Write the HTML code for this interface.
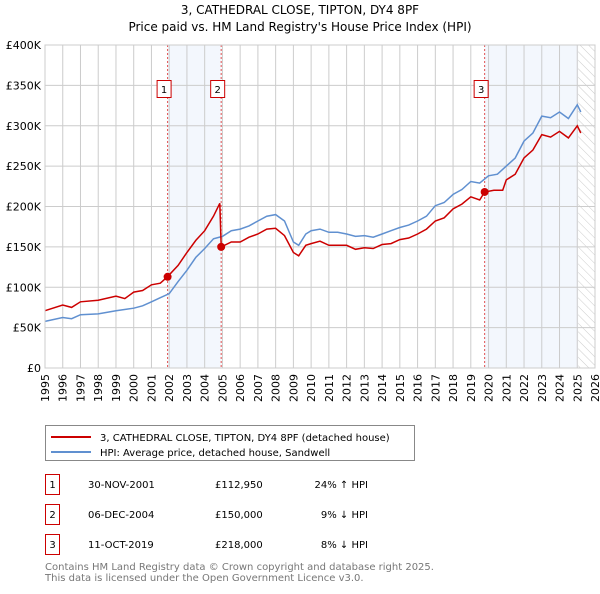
<!DOCTYPE html>
<html><head><meta charset="utf-8">
<style>
body{margin:0;background:#fff;font-family:"DejaVu Sans","Liberation Sans",sans-serif;}
svg text{font-family:"DejaVu Sans","Liberation Sans",sans-serif;}
</style></head>
<body>
<svg id="chart" width="600" height="590" xmlns="http://www.w3.org/2000/svg">
<defs><pattern id="hatch" width="6" height="6" patternUnits="userSpaceOnUse" patternTransform="rotate(-45)"><line x1="0" y1="0" x2="0" y2="6" stroke="#ccc" stroke-width="1"/></pattern></defs>
<text x="300" y="14" font-size="12" text-anchor="middle">3, CATHEDRAL CLOSE, TIPTON, DY4 8PF</text>
<text x="300" y="31" font-size="12" text-anchor="middle">Price paid vs. HM Land Registry's House Price Index (HPI)</text>
<g id="plot"></g>
<g>
<rect x="45.5" y="425.5" width="369" height="35" fill="#fff" stroke="#888"/>
<line x1="51" y1="437" x2="91" y2="437" stroke="#cc0000" stroke-width="2"/>
<text x="100" y="441" font-size="10">3, CATHEDRAL CLOSE, TIPTON, DY4 8PF (detached house)</text>
<line x1="51" y1="452" x2="91" y2="452" stroke="#6090d0" stroke-width="2"/>
<text x="100" y="456" font-size="10">HPI: Average price, detached house, Sandwell</text>
</g>
<g id="table"></g>
<text x="45" y="570" font-size="10" fill="#777">Contains HM Land Registry data © Crown copyright and database right 2025.</text>
<text x="45" y="581" font-size="10" fill="#777">This data is licensed under the Open Government Licence v3.0.</text>
</svg>
<script>
const hpiYears=[1995,1996,1996.5,1997,1998,1999,2000,2000.5,2001,2001.5,2002,2002.5,2003,2003.5,2004,2004.5,2005,2005.5,2006,2006.5,2007,2007.5,2008,2008.5,2009,2009.3,2009.7,2010,2010.5,2011,2011.5,2012,2012.5,2013,2013.5,2014,2014.5,2015,2015.5,2016,2016.5,2017,2017.5,2018,2018.5,2019,2019.5,2020,2020.5,2021,2021.5,2022,2022.5,2023,2023.5,2024,2024.5,2025,2025.2];
const hpiValues=[57.7,62.6,61,66,67,71,74,77,82,87,92,107,121,137,148,160,163,170,172,176,182,188,190,182,156,152,166,170,172,168,168,166,163,164,162,166,170,174,177,182,188,201,205,215,221,231,229,238,240,250,260,281,291,312,310,317,309,326,317];
const priceYears=[1995,1996,1996.5,1997,1998,1999,1999.5,2000,2000.5,2001,2001.5,2001.9,2002.5,2003,2003.5,2004,2004.5,2004.85,2004.93,2005.5,2006,2006.5,2007,2007.5,2008,2008.5,2009,2009.3,2009.7,2010,2010.5,2011,2011.5,2012,2012.5,2013,2013.5,2014,2014.5,2015,2015.5,2016,2016.5,2017,2017.5,2018,2018.5,2019,2019.5,2019.78,2020.3,2020.8,2021,2021.5,2022,2022.5,2023,2023.5,2024,2024.5,2025,2025.2];
const priceValues=[71,78,75,82,84,89,86,94,96,103,105,113,127,143,158,170,188,204,150,156,156,162,166,172,173,164,143,139,152,154,157,152,152,152,147,149,148,153,154,159,161,166,172,182,186,197,203,212,208,218,220,220,233,240,260,270,289,286,293,285,300,291];
const saleNums=["1","2","3"];
const saleYears=[2001.91,2004.93,2019.78];
const saleValues=[112.95,150,218];
const saleDates=["30-NOV-2001","06-DEC-2004","11-OCT-2019"];
const salePrices=["£112,950","£150,000","£218,000"];
const saleHpi=["24% ↑ HPI","9% ↓ HPI","8% ↓ HPI"];
const yTicks=[0,50,100,150,200,250,300,350,400];
const yTickLabels=["£0","£50K","£100K","£150K","£200K","£250K","£300K","£350K","£400K"];
const xTicks=[1995,1996,1997,1998,1999,2000,2001,2002,2003,2004,2005,2006,2007,2008,2009,2010,2011,2012,2013,2014,2015,2016,2017,2018,2019,2020,2021,2022,2023,2024,2025,2026];

const X0=45,X1=595,Y0=368,Y1=45;
const xs=y=>X0+(y-1995)/(2026-1995)*(X1-X0);
const ys=v=>Y0-v/400*(Y0-Y1);
const NS="http://www.w3.org/2000/svg";
const plot=document.getElementById('plot');
function mk(t,a,p){const e=document.createElementNS(NS,t);for(const k in a)e.setAttribute(k,a[k]);(p||plot).appendChild(e);return e;}
mk('rect',{x:X0,y:Y1,width:X1-X0,height:Y0-Y1,fill:'#fff'});
let b=mk('rect',{x:xs(saleYears[0]),y:Y1,width:xs(saleYears[1])-xs(saleYears[0]),height:Y0-Y1,fill:'#eef3fc',opacity:0.7});


b=mk('rect',{x:xs(saleYears[2]),y:Y1,width:xs(2025.05)-xs(saleYears[2]),height:Y0-Y1,fill:'#eef3fc',opacity:0.7});


b=mk('rect',{x:xs(2025.05),y:Y1,width:X1-xs(2025.05),height:Y0-Y1,fill:'url(#hatch)'});


xTicks.forEach(t=>{mk('line',{x1:xs(t),x2:xs(t),y1:Y1,y2:Y0,stroke:'#ccc','stroke-width':1});
 const tx=mk('text',{x:0,y:0,'font-size':11,'text-anchor':'end',transform:`translate(${xs(t)+4},${Y0+6}) rotate(-90)`});tx.textContent=t;
 
 });
yTicks.forEach((t,i)=>{mk('line',{x1:X0,x2:X1,y1:ys(t),y2:ys(t),stroke:'#ccc','stroke-width':1});
 const tx=mk('text',{x:X0-4,y:ys(t)+4,'font-size':11,'text-anchor':'end'});tx.textContent=yTickLabels[i];
 
 });
saleYears.forEach((y,i)=>{mk('line',{x1:xs(y),x2:xs(y),y1:Y1,y2:Y0,stroke:'#e05050','stroke-width':1,'stroke-dasharray':'2,2'});
 const g=mk('g',{});
 
 
 mk('rect',{x:xs(y)-10.5,y:80.5,width:14,height:17,fill:'#fff',stroke:'#cc0000'},g);
 const t=mk('text',{x:xs(y)-3.5,y:93,'font-size':10,'text-anchor':'middle'},g);t.textContent=saleNums[i];});
const path=(xa,va)=>xa.map((y,i)=>(i?'L':'M')+xs(y).toFixed(1)+','+ys(va[i]).toFixed(1)).join('');
let l=mk('path',{d:path(hpiYears,hpiValues),fill:'none',stroke:'#6090d0','stroke-width':1.5});


l=mk('path',{d:path(priceYears,priceValues),fill:'none',stroke:'#cc0000','stroke-width':1.5});


saleYears.forEach((y,i)=>{const c=mk('circle',{cx:xs(y),cy:ys(saleValues[i]),r:4,fill:'#cc0000'});
 
 });
mk('rect',{x:X0,y:Y1,width:X1-X0,height:Y0-Y1,fill:'none',stroke:'#ccc'});
const tb=document.getElementById('table');
saleNums.forEach((n,i)=>{const cy=483+i*30;
 const g=mk('g',{},tb);
 
 
 mk('rect',{x:45.5,y:cy-8.5,width:14,height:20,fill:'#fff',stroke:'#cc0000'},g);
 let t=mk('text',{x:52.5,y:cy+5,'font-size':10,'text-anchor':'middle'},g);t.textContent=n;
 t=mk('text',{x:88,y:cy+5,'font-size':10},g);t.textContent=saleDates[i];
 t=mk('text',{x:215,y:cy+5,'font-size':10},g);t.textContent=salePrices[i];
 t=mk('text',{x:368,y:cy+5,'font-size':10,'text-anchor':'end'},g);t.textContent=saleHpi[i];});
</script>
</body></html>
